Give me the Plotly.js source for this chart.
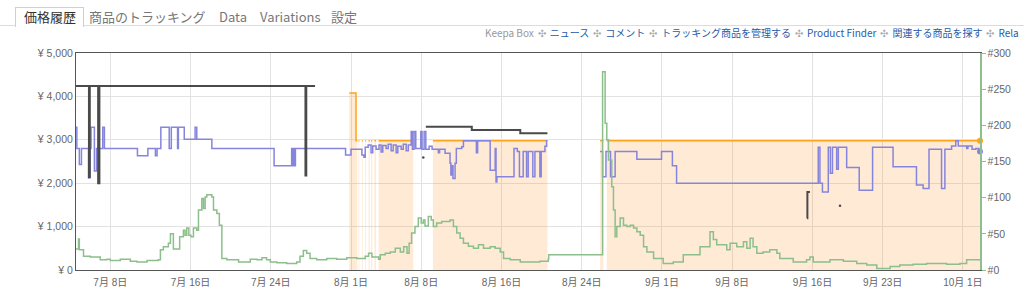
<!DOCTYPE html>
<html><head><meta charset="utf-8">
<script src="https://cdn.plot.ly/plotly-3.0.1.min.js"></script>
<style>
body{margin:0;background:#fff;}
#wrap{position:relative;width:1024px;height:291px;overflow:hidden;font-family:"Noto Sans CJK JP","Noto Sans",sans-serif;}
#chart{position:absolute;left:0;top:0;width:1024px;height:291px;}
.tabline{position:absolute;left:0;top:25px;width:1024px;height:1px;background:#dcdcdc;}
.tab{position:absolute;top:8px;height:18px;line-height:18px;font-size:13px;color:#777;white-space:nowrap;}
.tab.sel{left:15px;top:7px;width:59px;padding-left:8px;height:19px;background:#fff;border:1px solid #d0d0d0;border-bottom:none;color:#333;}
.links{position:absolute;left:485px;top:27px;font-size:10px;line-height:12px;white-space:nowrap;color:#2a5aa8;}
.links .g{color:#999;}
.links .s{color:#aaa;margin:0 4px;}
</style></head>
<body>
<div id="wrap">
<div id="chart"></div>
<div class="tabline"></div>
<div class="tab sel">価格履歴</div>
<div class="tab" style="left:89px">商品のトラッキング</div>
<div class="tab" style="left:219px">Data</div>
<div class="tab" style="left:260px">Variations</div>
<div class="tab" style="left:331px">設定</div>
<div class="links"><span class="g">Keepa Box</span><span class="s">✣</span>ニュース<span class="s">✣</span>コメント<span class="s">✣</span>トラッキング商品を管理する<span class="s">✣</span>Product Finder<span class="s">✣</span>関連する商品を探す<span class="s">✣</span>Rela</div>
</div>
<script>
// ---- axis ticks ----
const xTickVals = ['2019-07-08','2019-07-16','2019-07-24','2019-08-01','2019-08-08','2019-08-16','2019-08-24','2019-09-01','2019-09-08','2019-09-16','2019-09-23','2019-10-01'];
const xTickText = ['7月 8日','7月 16日','7月 24日','8月 1日','8月 8日','8月 16日','8月 24日','9月 1日','9月 8日','9月 16日','9月 23日','10月 1日'];
const priceTicks = [0,1000,2000,3000,4000,5000];
const priceTickText = ['¥ 0','¥ 1,000','¥ 2,000','¥ 3,000','¥ 4,000','¥ 5,000'];
const rankTicks = [0,50,100,150,200,250,300];
const rankTickText = ['#0','#50','#100','#150','#200','#250','#300'];

// ---- Amazon price (orange, null = unavailable) ----
const amazonDates = ['2019-07-31 20:00','2019-08-01 12:00','2019-08-01 15:00','2019-08-01 16:00',
 '2019-08-01 18:00','2019-08-01 20:00','2019-08-01 21:00',
 '2019-08-02 02:00','2019-08-02 04:00','2019-08-02 05:00',
 '2019-08-02 10:00','2019-08-02 12:00','2019-08-02 13:00',
 '2019-08-02 18:00','2019-08-02 21:00','2019-08-02 22:00',
 '2019-08-03 00:00','2019-08-03 03:00','2019-08-03 04:00',
 '2019-08-03 08:00','2019-08-03 12:00','2019-08-03 13:00',
 '2019-08-03 18:00','2019-08-07 05:00','2019-08-07 06:00',
 '2019-08-09 04:00','2019-08-20 14:00','2019-08-20 15:00',
 '2019-08-25 20:00','2019-08-26 04:00','2019-08-26 05:00',
 '2019-08-26 12:00','2019-10-02 17:00'];
const amazonPrices = [4080,2980,2980,null,
 2980,2980,null,
 2980,2980,null,
 2980,2980,null,
 2980,2980,null,
 2980,2980,null,
 2980,2980,null,
 2980,2980,null,
 2980,2980,null,
 2980,2980,null,
 2980,2980];

// ---- New price (blue) ----
const newDates = ['2019-07-04 14:00','2019-07-04 16:00','2019-07-04 22:00','2019-07-05 03:00','2019-07-05 20:00','2019-07-05 23:00',
 '2019-07-06 02:00','2019-07-06 10:00','2019-07-06 15:00','2019-07-07 06:00','2019-07-07 10:00','2019-07-10 17:00',
 '2019-07-11 18:00','2019-07-12 12:00','2019-07-12 16:00','2019-07-13 01:00','2019-07-13 21:00','2019-07-14 02:00',
 '2019-07-14 17:00','2019-07-14 19:00','2019-07-15 09:00','2019-07-16 11:00','2019-07-16 15:00','2019-07-18 03:00',
 '2019-07-24 08:00','2019-07-26 02:00','2019-07-26 05:00','2019-07-26 07:00','2019-07-26 09:00','2019-07-26 11:00',
 '2019-07-31 11:00','2019-08-01 00:00','2019-08-02 02:00','2019-08-02 07:00','2019-08-02 10:00','2019-08-02 17:00',
 '2019-08-03 00:00','2019-08-03 04:00','2019-08-03 12:00','2019-08-03 19:00','2019-08-04 00:00','2019-08-04 04:00',
 '2019-08-04 12:00','2019-08-04 17:00','2019-08-05 00:00','2019-08-05 05:00','2019-08-05 12:00','2019-08-05 16:00',
 '2019-08-06 00:00','2019-08-06 05:00','2019-08-06 12:00','2019-08-06 17:00','2019-08-07 00:00','2019-08-07 03:00',
 '2019-08-07 07:00','2019-08-07 11:00','2019-08-07 23:00','2019-08-08 02:00','2019-08-08 07:00','2019-08-08 11:00',
 '2019-08-08 19:00','2019-08-09 02:00','2019-08-09 17:00','2019-08-09 20:00','2019-08-10 09:00','2019-08-10 21:00',
 '2019-08-10 23:00','2019-08-11 02:00','2019-08-11 04:00','2019-08-11 09:00','2019-08-11 12:00','2019-08-12 01:00',
 '2019-08-12 05:00','2019-08-13 12:00','2019-08-13 15:00','2019-08-14 21:00','2019-08-15 09:00','2019-08-15 11:00',
 '2019-08-15 13:00','2019-08-17 06:00','2019-08-17 14:00','2019-08-17 19:00','2019-08-18 04:00','2019-08-18 12:00',
 '2019-08-18 16:00','2019-08-19 03:00','2019-08-19 08:00','2019-08-19 20:00','2019-08-19 23:00','2019-08-20 08:00',
 '2019-08-20 12:00','2019-08-20 14:00','2019-08-20 15:00',
 '2019-08-25 20:00','2019-08-26 02:00','2019-08-26 10:00','2019-08-26 21:00','2019-08-27 08:00','2019-08-29 12:00',
 '2019-08-31 23:00','2019-09-02 01:00','2019-09-02 11:00','2019-09-16 14:00','2019-09-16 18:00','2019-09-17 00:00',
 '2019-09-17 14:00','2019-09-17 19:00','2019-09-18 00:00','2019-09-18 10:00','2019-09-18 14:00','2019-09-19 10:00',
 '2019-09-20 16:00','2019-09-22 00:00','2019-09-24 01:00','2019-09-26 09:00','2019-09-27 01:00','2019-09-27 15:00',
 '2019-09-28 21:00','2019-09-29 05:00','2019-09-29 21:00','2019-09-30 07:00','2019-09-30 13:00','2019-10-01 09:00',
 '2019-10-01 12:00','2019-10-01 22:00','2019-10-02 07:00','2019-10-02 14:00','2019-10-02 17:00'];
const newPrices = [3290,2800,2430,2800,2120,2800,
 3290,2280,2800,3290,2800,2630,
 2800,2630,2800,3290,2800,3290,
 2800,3290,3010,3290,3010,2800,
 2400,2800,2400,2800,2400,2800,
 2650,2780,2650,2600,2830,2880,
 2700,2860,2780,2880,2720,2870,
 2800,2900,2750,2880,2700,2850,
 2780,2900,2750,2880,3190,2780,
 3190,2800,3190,2780,3190,2780,
 2850,2780,2700,2780,2690,2460,
 2190,2400,2110,2460,2800,2840,
 2980,2700,2980,2300,2800,2030,
 2150,2800,2730,2150,2730,2150,
 2730,2150,2730,2150,2730,2850,
 2980,2980,null,
 2730,2150,2730,2150,2730,2550,
 2730,2400,2000,2830,2000,1800,
 2830,2230,2830,2320,2830,2360,
 1840,2830,2380,1960,1880,2780,
 1880,2780,2860,2980,2860,2800,
 2860,2780,2800,2730,2730];

// ---- Used price (dark gray) ----
const usedDates = ['2019-07-04 14:00','2019-07-05 21:00','2019-07-05 23:00','2019-07-06 19:00','2019-07-06 22:00',
 '2019-07-27 11:00','2019-07-27 13:00','2019-07-28 10:00','2019-07-28 11:00',
 '2019-08-08 11:00','2019-08-13 01:00','2019-08-17 21:00','2019-08-20 14:00','2019-08-20 15:00',
 '2019-09-15 11:00','2019-09-15 12:00','2019-09-15 18:00'];
const usedPrices = [4240,2140,4240,2000,4240,
 2180,4240,4240,null,
 3300,3225,3150,3150,null,
 1190,1800,1800];
const usedDotDates = ['2019-08-08 05:00','2019-09-18 18:00'];
const usedDotPrices = [2590,1480];

// ---- Sales rank (green, right axis) ----
const rankDates = ['2019-07-04 14:00','2019-07-04 20:00','2019-07-04 22:00','2019-07-05 08:00','2019-07-06 00:00','2019-07-07 00:00',
 '2019-07-07 16:00','2019-07-08 00:00','2019-07-09 00:00','2019-07-10 00:00','2019-07-10 16:00','2019-07-11 16:00',
 '2019-07-12 19:00','2019-07-13 00:00','2019-07-13 07:00','2019-07-13 19:00','2019-07-14 00:00','2019-07-14 07:00',
 '2019-07-14 22:00','2019-07-15 07:00','2019-07-15 11:00','2019-07-15 15:00','2019-07-15 20:00','2019-07-16 01:00',
 '2019-07-16 07:00','2019-07-16 15:00','2019-07-16 19:00','2019-07-17 03:00','2019-07-17 07:00','2019-07-17 11:00',
 '2019-07-17 15:00','2019-07-18 03:00','2019-07-18 07:00','2019-07-18 15:00','2019-07-18 21:00','2019-07-19 03:00',
 '2019-07-19 15:00','2019-07-20 19:00','2019-07-21 23:00','2019-07-22 15:00','2019-07-23 03:00','2019-07-23 14:00',
 '2019-07-23 23:00','2019-07-24 15:00','2019-07-25 14:00','2019-07-26 14:00','2019-07-26 22:00','2019-07-27 06:00',
 '2019-07-27 14:00','2019-07-27 22:00','2019-07-28 14:00','2019-07-29 14:00','2019-07-30 14:00','2019-07-31 14:00',
 '2019-08-01 14:00','2019-08-02 10:00','2019-08-02 18:00','2019-08-03 02:00','2019-08-03 18:00','2019-08-03 22:00',
 '2019-08-04 10:00','2019-08-04 22:00','2019-08-05 10:00','2019-08-05 22:00','2019-08-06 06:00','2019-08-06 14:00',
 '2019-08-06 19:00','2019-08-07 01:00','2019-08-07 09:00','2019-08-07 17:00','2019-08-08 00:00','2019-08-08 05:00',
 '2019-08-08 09:00','2019-08-08 17:00','2019-08-09 00:00','2019-08-09 05:00','2019-08-09 13:00','2019-08-10 01:00',
 '2019-08-10 21:00','2019-08-11 05:00','2019-08-11 13:00','2019-08-11 21:00','2019-08-12 05:00','2019-08-12 17:00',
 '2019-08-13 05:00','2019-08-13 17:00','2019-08-14 05:00','2019-08-14 21:00','2019-08-15 09:00','2019-08-15 21:00',
 '2019-08-16 05:00','2019-08-16 21:00','2019-08-17 21:00','2019-08-19 20:00','2019-08-20 16:00','2019-08-20 17:00',
 '2019-08-26 02:00','2019-08-26 08:00','2019-08-26 12:00','2019-08-26 16:00','2019-08-27 00:00','2019-08-27 04:00',
 '2019-08-27 08:00','2019-08-27 12:00','2019-08-27 20:00','2019-08-28 04:00','2019-08-28 12:00','2019-08-28 20:00',
 '2019-08-29 04:00','2019-08-29 12:00','2019-08-29 20:00','2019-08-30 04:00','2019-08-30 12:00','2019-08-31 04:00',
 '2019-09-01 03:00','2019-09-02 03:00','2019-09-03 03:00','2019-09-04 19:00','2019-09-05 19:00','2019-09-06 03:00',
 '2019-09-06 11:00','2019-09-07 11:00','2019-09-07 19:00','2019-09-08 11:00','2019-09-09 03:00','2019-09-09 11:00',
 '2019-09-09 19:00','2019-09-10 02:00','2019-09-10 11:00','2019-09-11 02:00','2019-09-11 18:00','2019-09-12 11:00',
 '2019-09-12 18:00','2019-09-14 02:00','2019-09-15 10:00','2019-09-15 18:00','2019-09-16 02:00','2019-09-17 18:00',
 '2019-09-19 02:00','2019-09-20 10:00','2019-09-21 10:00','2019-09-22 10:00','2019-09-23 18:00','2019-09-24 17:00',
 '2019-09-26 01:00','2019-09-27 09:00','2019-09-29 09:00','2019-09-30 17:00','2019-10-01 09:00','2019-10-02 17:00'];
const rankValues = [29,43,28,19,18,14,
 15,13,15,12,11,13,
 14,28,32,37,50,29,
 46,55,48,58,48,46,
 58,55,83,99,85,101,
 104,101,83,78,62,16,
 14,11,15,14,17,14,
 11,10,9,11,19,27,
 23,16,14,16,15,17,
 16,19,23,18,15,21,
 23,25,30,25,32,23,
 37,51,60,72,65,69,
 61,74,69,60,65,67,
 69,60,51,44,37,33,
 30,35,30,32,30,25,
 16,14,11,12,15,21,
 274,203,180,152,115,83,
 46,60,72,62,60,62,
 58,53,48,32,25,16,
 9,11,21,32,53,42,
 35,28,37,32,39,30,
 44,32,23,25,28,23,
 16,11,14,18,11,14,
 12,9,7,2,5,7,
 8,9,8,9,14,14];

// ---- build traces ----
const ORANGE = '#ffa31a', FILL = 'rgba(255,140,30,0.18)', BLUE = '#8585dc', GREEN = '#8cbf8c', USED = '#4a4a4a';
const traces = [];
// Amazon: one filled step trace per available stretch
let segX = [], segY = [];
function flushSeg(){
  if (segX.length) traces.push({x:segX, y:segY, type:'scatter', mode:'lines', line:{shape:'hv', color:ORANGE, width:1.5},
    fill:'tozeroy', fillcolor:FILL, hoverinfo:'skip'});
  segX = []; segY = [];
}
amazonDates.forEach((d,i)=>{ if (amazonPrices[i]===null) flushSeg(); else { segX.push(d); segY.push(amazonPrices[i]); } });
flushSeg();
traces.push({x:rankDates, y:rankValues, yaxis:'y2', type:'scatter', mode:'lines', line:{shape:'hv', color:GREEN, width:1.5}});
traces.push({x:newDates, y:newPrices, type:'scatter', mode:'lines', line:{shape:'hv', color:BLUE, width:1.5}, connectgaps:false});
traces.push({x:usedDates, y:usedPrices, type:'scatter', mode:'lines', line:{shape:'hv', color:USED, width:2}, connectgaps:false});
traces.push({x:usedDotDates, y:usedDotPrices, type:'scatter', mode:'markers', marker:{size:2.5, color:USED}});
// end markers
const lastA = amazonDates.length-1, lastN = newDates.length-1;
traces.push({x:[amazonDates[lastA]], y:[amazonPrices[lastA]], type:'scatter', mode:'markers', cliponaxis:false,
  marker:{size:6, color:ORANGE}});
traces.push({x:[newDates[lastN]], y:[newPrices[lastN]], type:'scatter', mode:'markers', cliponaxis:false,
  marker:{size:6, color:BLUE}});

const layout = {
  width:1024, height:291,
  margin:{l:76, r:44, t:53, b:21, pad:0},
  paper_bgcolor:'rgba(0,0,0,0)', plot_bgcolor:'#fff',
  showlegend:false,
  font:{family:'"Liberation Sans", "Noto Sans CJK JP", sans-serif', size:10, color:'#666'},
  xaxis:{type:'date', range:['2019-07-04 14:00','2019-10-02 17:00'], tickmode:'array', tickvals:xTickVals, ticktext:xTickText,
    showgrid:true, gridcolor:'#e2e2e2', gridwidth:1, showline:true, linecolor:'#555', linewidth:1, mirror:true,
    ticks:'outside', ticklen:3, tickcolor:'rgba(0,0,0,0)', zeroline:false, tickfont:{size:10, color:'#666'}, fixedrange:true},
  yaxis:{range:[0,5000], tickmode:'array', tickvals:priceTicks, ticktext:priceTickText, showgrid:true, gridcolor:'#e2e2e2',
    showline:true, linecolor:'#555', linewidth:1, zeroline:false, ticks:'', tickfont:{size:10.5, color:'#666'}},
  yaxis2:{overlaying:'y', side:'right', range:[0,300], tickmode:'array', tickvals:rankTicks, ticktext:rankTickText,
    showgrid:false, showline:true, linecolor:GREEN, linewidth:1.5, zeroline:false, ticks:'outside', ticklen:4, tickcolor:GREEN,
    tickfont:{size:10.5, color:'#666'}}
};
Plotly.newPlot('chart', traces, layout, {displayModeBar:false, staticPlot:true});
</script>
</body></html>
